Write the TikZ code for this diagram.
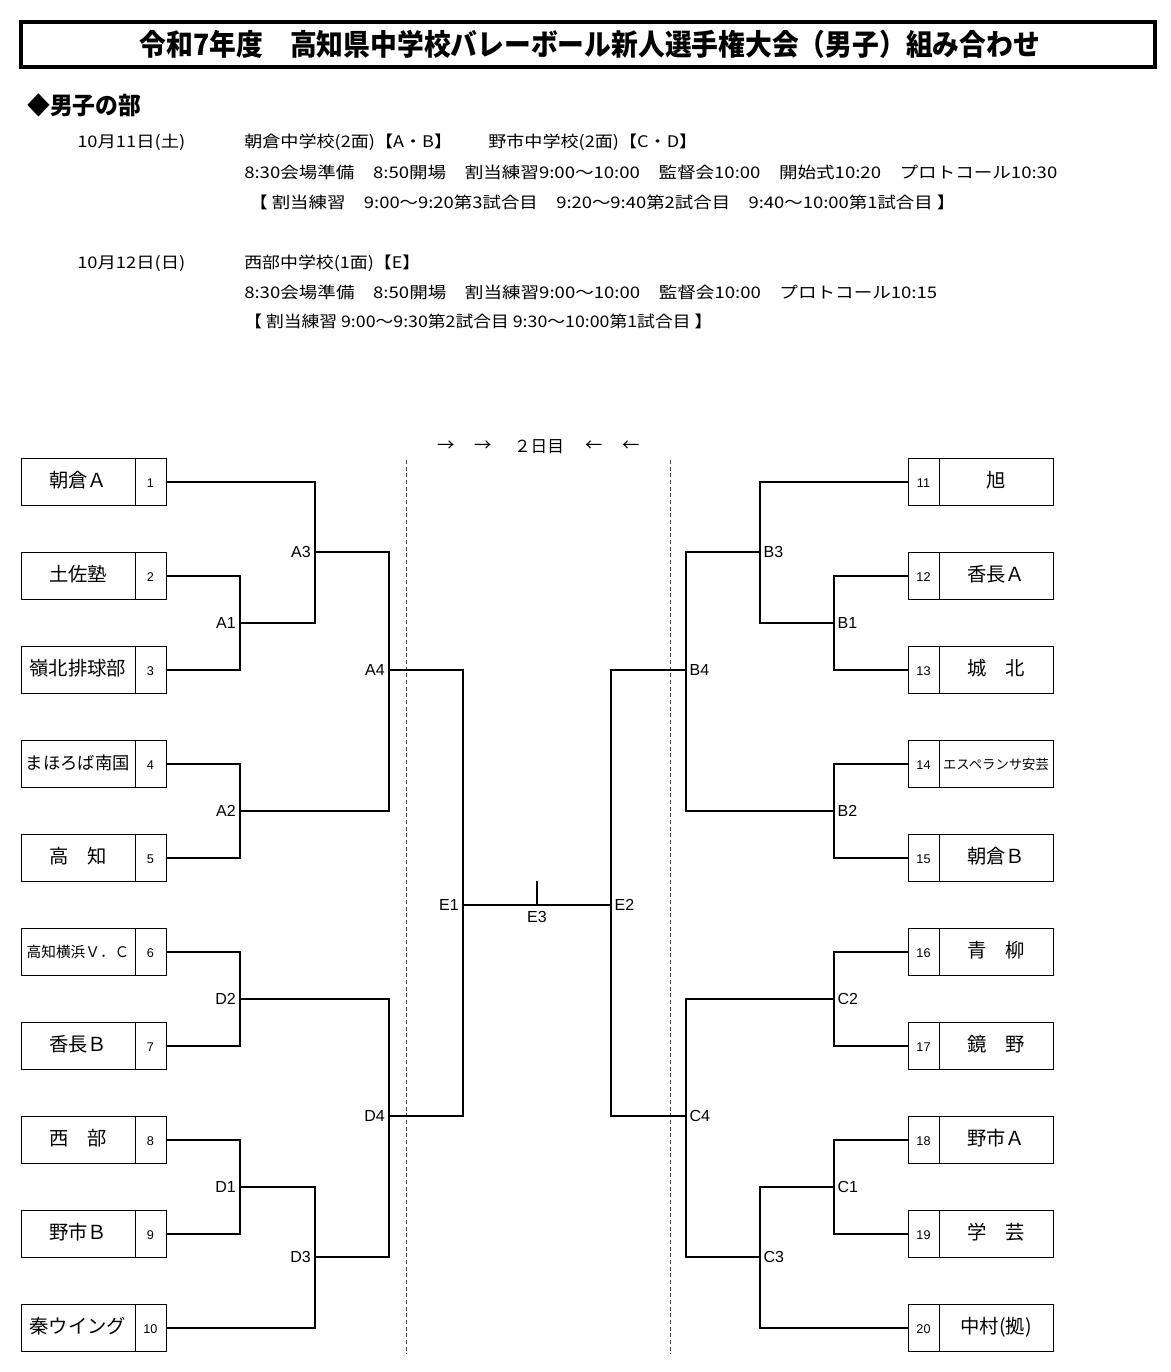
\documentclass[tikz,border=0pt]{standalone}
\usepackage{fontspec}
\setmainfont{Noto Sans CJK JP}
\newfontfamily\lat{Liberation Sans}
\newcommand{\fitw}[2]{\resizebox{#1}{\height}{#2}}
\tikzset{
  br/.style={line width=1.5pt},
  cell/.style={draw, line width=0.75pt, minimum height=35pt, inner sep=0pt,
    text height=0.88em, text depth=0.12em},
  namebox/.style={cell, minimum width=85.5pt},
  numbox/.style={cell, minimum width=23.25pt, font=\lat\fontsize{9.5}{10}\selectfont},
  hdr/.style={anchor=west, inner sep=0pt, font=\fontsize{12}{14}\selectfont,
    text height=0.88em, text depth=0.12em},
  lbl/.style={inner sep=0pt, font=\lat\fontsize{12}{14}\selectfont},
  dline/.style={line width=0.75pt, black!75, dash pattern=on 3pt off 2pt},
}
\newcommand{\lteam}[4]{%
  \node[namebox, font=\fontsize{#4}{#4}\selectfont] (t#1) at (78,#2) {#3};
  \node[numbox] (n#1) at (150.5,#2) {#1};}
\newcommand{\rteam}[4]{%
  \node[numbox] (n#1) at (923.5,#2) {#1};
  \node[namebox, font=\fontsize{#4}{#4}\selectfont] (t#1) at (996,#2) {#3};}
\begin{document}
\begin{tikzpicture}[x=0.75pt,y=-0.75pt]
\useasboundingbox (0,0) rectangle (1171,1372);
\fill[white] (0,0) rectangle (1171,1372);

% title
\node[draw, line width=3pt, minimum width=850.5pt, minimum height=33.75pt, inner sep=0pt]
  (titlebox) at (588,44.5) {};
\node[inner sep=0pt, font=\bfseries\fontsize{22}{24}\selectfont, text height=0.88em, text depth=0.12em]
  (title) at (590,50) {\fitw{675pt}{令和7年度　高知県中学校バレーボール新人選手権大会（男子）組み合わせ}};

\node[hdr, font=\bfseries\fontsize{18}{20}\selectfont] (sec) at (27,109) {\fitw{85.5pt}{◆男子の部}};

% schedule
\node[hdr] (d1) at (77,142) {\fitw{81pt}{10月11日(土)}};
\node[hdr] (l1) at (244,142) {\fitw{339.75pt}{朝倉中学校(2面)【A・B】　　野市中学校(2面)【C・D】}};
\node[hdr] (l2) at (244,173) {\fitw{609.75pt}{8:30会場準備　8:50開場　割当練習9:00～10:00　監督会10:00　開始式10:20　プロトコール10:30}};
\node[hdr] (l3) at (249,203) {\fitw{529.5pt}{【 割当練習　9:00～9:20第3試合目　9:20～9:40第2試合目　9:40～10:00第1試合目 】}};
\node[hdr] (d2) at (77,263) {\fitw{81pt}{10月12日(日)}};
\node[hdr] (l4) at (244,263) {\fitw{132pt}{西部中学校(1面)【E】}};
\node[hdr] (l5) at (244,293) {\fitw{519.75pt}{8:30会場準備　8:50開場　割当練習9:00～10:00　監督会10:00　プロトコール10:15}};
\node[hdr] (l6) at (244,322) {\fitw{351pt}{【 割当練習 9:00～9:30第2試合目 9:30～10:00第1試合目 】}};

% day-2 header
\node[inner sep=0pt, font=\fontsize{13}{14}\selectfont] (ar1) at (446,446) {→};
\node[inner sep=0pt, font=\fontsize{13}{14}\selectfont] (ar2) at (483,446) {→};
\node[inner sep=0pt, font=\fontsize{12.5}{14}\selectfont] (day2) at (539,447) {２日目};
\node[inner sep=0pt, font=\fontsize{13}{14}\selectfont] (ar3) at (594,446) {←};
\node[inner sep=0pt, font=\fontsize{13}{14}\selectfont] (ar4) at (631,446) {←};

% dashed separators
\coordinate (dl1) at (406,460); \coordinate (dl2) at (406,1354);
\coordinate (dr1) at (670,460); \coordinate (dr2) at (670,1354);
\draw[dline] (dl1) -- (dl2);
\draw[dline] (dr1) -- (dr2);

% teams
\lteam{1}{482}{朝倉Ａ}{14.5}
\lteam{2}{576}{土佐塾}{14.5}
\lteam{3}{670}{嶺北排球部}{14.5}
\lteam{4}{764}{まほろば南国}{13}
\lteam{5}{858}{高　知}{14.5}
\lteam{6}{952}{高知横浜Ｖ．Ｃ}{11}
\lteam{7}{1046}{香長Ｂ}{14.5}
\lteam{8}{1140}{西　部}{14.5}
\lteam{9}{1234}{野市Ｂ}{14.5}
\lteam{10}{1328}{秦ウイング}{14.5}
\rteam{11}{482}{旭}{14.5}
\rteam{12}{576}{香長Ａ}{14.5}
\rteam{13}{670}{城　北}{14.5}
\rteam{14}{764}{エスペランサ安芸}{10}
\rteam{15}{858}{朝倉Ｂ}{14.5}
\rteam{16}{952}{青　柳}{14.5}
\rteam{17}{1046}{鏡　野}{14.5}
\rteam{18}{1140}{野市Ａ}{14.5}
\rteam{19}{1234}{学　芸}{14.5}
\rteam{20}{1328}{中村(拠)}{14.5}

% joints
\coordinate (A1) at (240,623);  \coordinate (A2) at (240,811);
\coordinate (A3) at (315,552);  \coordinate (A4) at (389,670);
\coordinate (D2) at (240,999);  \coordinate (D1) at (240,1187);
\coordinate (D3) at (315,1257); \coordinate (D4) at (389,1116);
\coordinate (E1) at (463,905);  \coordinate (E2) at (611,905);
\coordinate (E3) at (537,905);  \coordinate (E3t) at (537,881);
\coordinate (B1) at (834,623);  \coordinate (B2) at (834,811);
\coordinate (B3) at (760,552);  \coordinate (B4) at (686,670);
\coordinate (C2) at (834,999);  \coordinate (C1) at (834,1187);
\coordinate (C3) at (760,1257); \coordinate (C4) at (686,1116);

% left bracket
\draw[br] (n1.east) -| (A3) |- (A1);
\draw[br] (n2.east) -| (A1) |- (n3.east);
\draw[br] (A3) -| (A4) |- (A2);
\draw[br] (n4.east) -| (A2) |- (n5.east);
\draw[br] (A4) -| (E1) |- (D4);
\draw[br] (n6.east) -| (D2) |- (n7.east);
\draw[br] (D2) -| (D4) |- (D3);
\draw[br] (n8.east) -| (D1) |- (n9.east);
\draw[br] (D1) -| (D3) |- (n10.east);
% final
\draw[br] (E1) -- (E2);
\draw[br] (E3) -- (E3t);
% right bracket
\draw[br] (n11.west) -| (B3) |- (B1);
\draw[br] (n12.west) -| (B1) |- (n13.west);
\draw[br] (B3) -| (B4) |- (B2);
\draw[br] (n14.west) -| (B2) |- (n15.west);
\draw[br] (B4) -| (E2) |- (C4);
\draw[br] (n16.west) -| (C2) |- (n17.west);
\draw[br] (C2) -| (C4) |- (C3);
\draw[br] (n18.west) -| (C1) |- (n19.west);
\draw[br] (C1) -| (C3) |- (n20.west);

% labels
\foreach \j in {A1,A2,A3,A4,D1,D2,D3,D4,E1}
  \node[lbl, anchor=east] (l\j) at ([xshift=-3pt]\j) {\j};
\foreach \j in {B1,B2,B3,B4,C1,C2,C3,C4,E2}
  \node[lbl, anchor=west] (l\j) at ([xshift=2.5pt]\j) {\j};
\node[lbl, anchor=north] (lE3) at ([yshift=-4.5pt]E3) {E3};
\end{tikzpicture}
\end{document}
